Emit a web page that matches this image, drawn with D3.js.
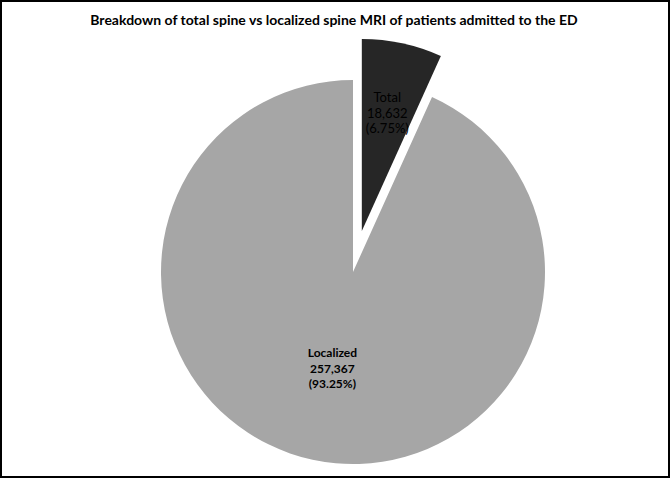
<!DOCTYPE html>
<html>
<head>
<meta charset="utf-8">
<script src="https://cdn.jsdelivr.net/npm/d3@7"></script>
<style>
  body { margin: 0; background: #fff; }
  svg { display: block; }
</style>
</head>
<body>
<svg id="chart" width="670" height="478"></svg>
<script>
// chart data
const categories = ["Total", "Localized"];
const counts = [18632, 257367];
const shareLabels = ["(6.75%)", "(93.25%)"];
const sliceColors = ["#262626", "#a6a6a6"];

const svg = d3.select("#chart");
const width = +svg.attr("width");
const height = +svg.attr("height");

// frame round the chart
svg.append("rect")
    .attr("x", 1).attr("y", 1)
    .attr("width", width - 2).attr("height", height - 2)
    .attr("fill", "#fff")
    .attr("stroke", "#000")
    .attr("stroke-width", 2);

svg.append("text")
    .attr("x", 334)
    .attr("y", 25)
    .attr("text-anchor", "middle")
    .style("font-family", "Lato, 'Open Sans', sans-serif")
    .style("font-weight", "bold")
    .style("font-size", "14px")
    .text("Breakdown of total spine vs localized spine MRI of patients admitted to the ED");

const cx = 353, cy = 272, radius = 192;
const explode = 42;            // pull-out of the small slice
const labelFactor = [0.63, 0.51];

const pie = d3.pie().sort(null).value(d => d.count);
const data = categories.map((c, i) => ({
    name: c, count: counts[i], share: shareLabels[i], color: sliceColors[i], i: i
}));
const arcs = pie(data);

const arc = d3.arc().innerRadius(0).outerRadius(radius);

const g = svg.append("g").attr("transform", "translate(" + cx + "," + cy + ")");

const slice = g.selectAll("g.slice")
    .data(arcs)
    .enter().append("g")
    .attr("class", "slice")
    .attr("transform", d => {
        if (d.data.i !== 0) return null;
        let mid = (d.startAngle + d.endAngle) / 2;
        return "translate(" + (Math.sin(mid) * explode) + "," + (-Math.cos(mid) * explode) + ")";
    });

slice.append("path")
    .attr("d", arc)
    .attr("fill", d => d.data.color);

slice.each(function (d) {
    let mid = (d.startAngle + d.endAngle) / 2;
    let r = radius * labelFactor[d.data.i];
    let lx = Math.sin(mid) * r, ly = -Math.cos(mid) * r;
    let lines = [d.data.name, d3.format(",")(d.data.count), d.data.share];
    let t = d3.select(this).append("text")
        .attr("text-anchor", "middle")
        .style("font-family", "Lato, 'Open Sans', sans-serif")
        .style("font-size", d.data.i === 0 ? "13px" : "12px")
        .style("font-weight", d.data.i === 0 ? "normal" : "bold")
        .attr("fill", "#000");
    lines.forEach((ln, k) => {
        t.append("tspan")
            .attr("x", lx)
            .attr("y", ly + (k - 1) * 15.5 + 5)
            .text(ln);
    });
});
</script>
</body>
</html>
